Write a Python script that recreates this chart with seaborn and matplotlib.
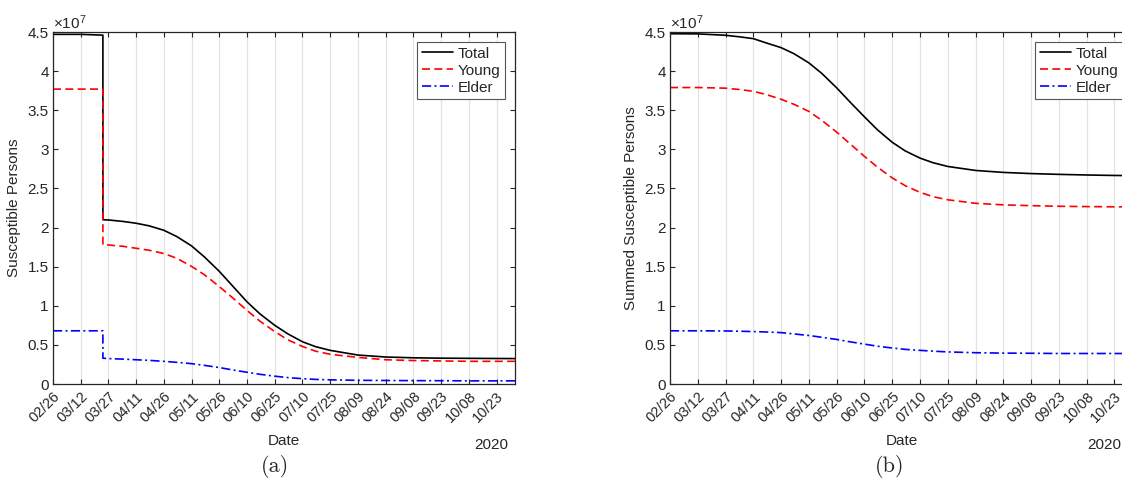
import numpy as np
import pandas as pd
import matplotlib
matplotlib.use("Agg")
import matplotlib.pyplot as plt
import matplotlib.dates as mdates
from matplotlib.ticker import FuncFormatter
import seaborn as sns

# ---------------- data (values in units of 1e7 persons) ----------------
dates_a = ['02/26', '03/12', '03/24', '03/24', '03/27', '04/04', '04/11', '04/18',
           '04/26', '05/03', '05/11', '05/18', '05/26', '06/02', '06/10', '06/17',
           '06/25', '07/02', '07/10', '07/17', '07/25', '08/09', '08/24', '09/08',
           '09/23', '10/08', '10/23', '11/02']
total_a = [4.47, 4.47, 4.46, 2.10, 2.097, 2.078, 2.055, 2.022,
           1.965, 1.885, 1.765, 1.623, 1.44, 1.258, 1.05, 0.896,
           0.75, 0.642, 0.54, 0.478, 0.43, 0.37, 0.345, 0.335,
           0.33, 0.328, 0.326, 0.325]
young_a = [3.77, 3.77, 3.77, 1.78, 1.777, 1.76, 1.735, 1.71,
           1.668, 1.607, 1.503, 1.396, 1.245, 1.106, 0.94, 0.803,
           0.67, 0.566, 0.48, 0.42, 0.38, 0.34, 0.31, 0.30,
           0.295, 0.29, 0.29, 0.29]
elder_a = [0.68, 0.68, 0.68, 0.33, 0.325, 0.318, 0.31, 0.302,
           0.29, 0.277, 0.26, 0.238, 0.21, 0.181, 0.15, 0.124,
           0.10, 0.082, 0.068, 0.059, 0.053, 0.047, 0.045, 0.043,
           0.042, 0.04, 0.04, 0.04]

dates_b = ['02/26', '03/12', '03/27', '04/03', '04/11', '04/18', '04/26', '05/03',
           '05/11', '05/18', '05/26', '06/02', '06/10', '06/17', '06/25', '07/02',
           '07/10', '07/17', '07/25', '08/09', '08/24', '09/08', '09/23', '10/08',
           '10/23', '11/02']
total_b = [4.478, 4.476, 4.458, 4.44, 4.415, 4.36, 4.30, 4.222,
           4.105, 3.97, 3.786, 3.61, 3.415, 3.25, 3.09, 2.98,
           2.888, 2.829, 2.781, 2.73, 2.705, 2.69, 2.68, 2.672,
           2.666, 2.664]
young_b = [3.79, 3.79, 3.782, 3.766, 3.742, 3.70, 3.64, 3.575,
           3.485, 3.37, 3.22, 3.075, 2.91, 2.772, 2.635, 2.535,
           2.45, 2.395, 2.355, 2.31, 2.29, 2.28, 2.272, 2.268,
           2.265, 2.265]
elder_b = [0.68, 0.68, 0.678, 0.675, 0.67, 0.665, 0.657, 0.64,
           0.62, 0.597, 0.57, 0.54, 0.51, 0.483, 0.46, 0.443,
           0.43, 0.42, 0.41, 0.40, 0.395, 0.393, 0.39, 0.39,
           0.39, 0.39]

series_names = ['Total', 'Young', 'Elder']
y_labels = ['Susceptible Persons', 'Summed Susceptible Persons']
panel_tags = ['(a)', '(b)']
y_ticks = [0, 0.5, 1, 1.5, 2, 2.5, 3, 3.5, 4, 4.5]
year = '2020'

# ---------------- style ----------------
sns.set_style("white")
plt.rcParams['font.family'] = ['Liberation Sans', 'DejaVu Sans']
plt.rcParams['mathtext.fontset'] = 'custom'
plt.rcParams['mathtext.rm'] = 'Liberation Sans'
plt.rcParams['mathtext.it'] = 'Liberation Sans:italic'

DARK = '#262626'
FS = 11
colors = ['black', '#ff0000', '#0000ff']
dash_styles = [None, (4.8, 2.6), (5.5, 2.0, 1.2, 2.0)]

W, H = 1122, 484
fig = plt.figure(figsize=(W / 100, H / 100), dpi=100)
ax_a = fig.add_axes([53 / W, (H - 384) / H, 462 / W, 352 / H])
ax_b = fig.add_axes([670 / W, (H - 384) / H, 463 / W, 352 / H])

start = pd.Timestamp('2020-02-26')
end = pd.Timestamp('2020-11-02')
tick_dates = pd.date_range(start, periods=17, freq='15D')


def to_dt(lst):
    return pd.to_datetime([f"{year}-{d.replace('/', '-')}" for d in lst])


panels = [
    (ax_a, to_dt(dates_a), [total_a, young_a, elder_a]),
    (ax_b, to_dt(dates_b), [total_b, young_b, elder_b]),
]

for i, (ax, dts, vals) in enumerate(panels):
    for name, v, c, ds in zip(series_names, vals, colors, dash_styles):
        df = pd.DataFrame({'date': dts, 'value': v})
        sns.lineplot(data=df, x='date', y='value', ax=ax, color=c,
                     estimator=None, sort=False, lw=1.2, label=name, legend=False)
        if ds is not None:
            ax.lines[-1].set_dashes(ds)

    ax.set_xlim(start, end)
    ax.set_ylim(0, 4.5)
    ax.set_yticks(y_ticks)
    ax.yaxis.set_major_formatter(FuncFormatter(lambda v, p: f"{v:g}"))
    ax.set_xticks(tick_dates)
    ax.xaxis.set_major_formatter(mdates.DateFormatter('%m/%d'))
    for lab in ax.get_xticklabels():
        lab.set_rotation(45)
        lab.set_ha('right')
        lab.set_rotation_mode('anchor')

    ax.grid(axis='x', color='#e3e3e3', lw=0.9)
    ax.grid(axis='y', visible=False)
    for sp in ax.spines.values():
        sp.set_visible(True)
        sp.set_color(DARK)
        sp.set_linewidth(0.9)
    ax.tick_params(axis='both', which='major', direction='in', length=3.5,
                   width=0.8, color=DARK, labelcolor=DARK, labelsize=FS,
                   top=True, right=True, bottom=True, left=True)
    ax.tick_params(axis='x', pad=4, labelsize=10.5)
    ax.tick_params(axis='y', pad=3)

    ax.set_xlabel('Date', fontsize=FS, color=DARK, labelpad=6)
    ax.set_ylabel(y_labels[i], fontsize=FS, color=DARK, labelpad=5)
    ax.text(0.0, 1.0, r'$\times 10^{7}$', transform=ax.transAxes,
            ha='left', va='bottom', fontsize=FS, color=DARK)
    ax.text(0.985 if i == 0 else 0.975, -0.172, year, transform=ax.transAxes,
            ha='right', va='center', fontsize=FS, color=DARK)

    leg = ax.legend(loc='upper right', fontsize=FS, frameon=True, fancybox=False,
                    framealpha=1, edgecolor='#555555', handlelength=2.05,
                    handletextpad=0.3, labelspacing=0.2, borderpad=0.3,
                    borderaxespad=0.65)
    leg.get_frame().set_linewidth(0.8)

fig.text(275 / W, 1 - 467 / H, panel_tags[0], family='cmr10', fontsize=16,
         ha='center', va='center')
fig.text(890 / W, 1 - 467 / H, panel_tags[1], family='cmr10', fontsize=16,
         ha='center', va='center')

fig.savefig('out.png', dpi=100)
